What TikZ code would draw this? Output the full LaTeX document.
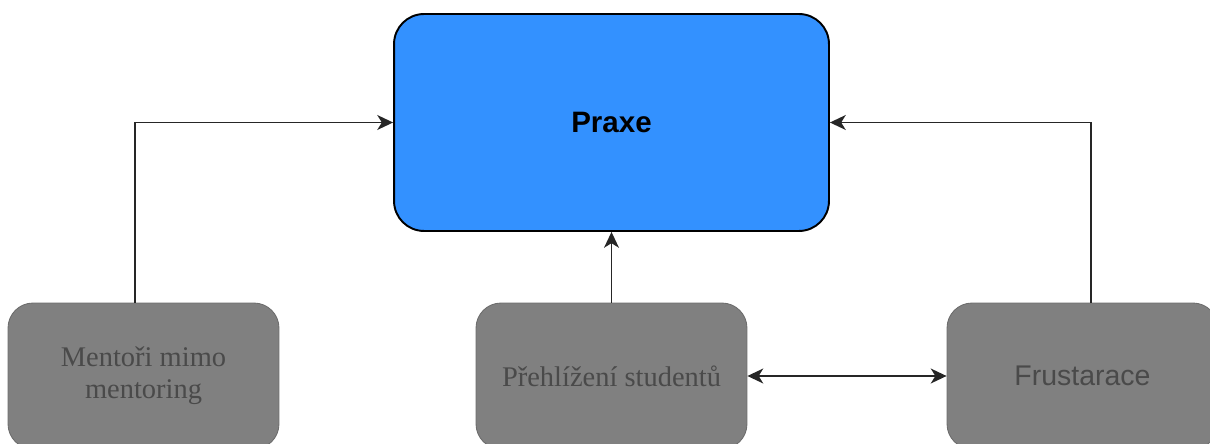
\documentclass[tikz,border=0pt]{standalone}
\usepackage{fontspec}
\setmainfont{Liberation Serif}
\newfontfamily\arialfont{Liberation Sans}
\usetikzlibrary{arrows.meta,positioning}

\definecolor{praxeblue}{HTML}{3391FF}
\definecolor{boxgray}{HTML}{808080}
\definecolor{boxtext}{HTML}{4A4A4A}

\tikzset{
  mainbox/.style={draw=black, line width=1.1pt, fill=praxeblue, rounded corners=0.6cm,
    minimum width=8.7cm, minimum height=4.34cm, font=\arialfont\bfseries\fontsize{16.8}{19}\selectfont},
  graybox/.style={draw=boxgray!85!black, line width=0.5pt, fill=boxgray, rounded corners=0.5cm,
    minimum width=5.42cm, minimum height=2.92cm, text=boxtext, align=center,
    font=\fontsize{16.2}{18.2}\selectfont},
  link/.style={draw=black!85, line width=0.85pt},
}

\begin{document}
\begin{tikzpicture}[x=0.02cm, y=0.02cm, >={Stealth[length=9pt,width=8.5pt,inset=2.6pt]}]
\useasboundingbox (0,0) rectangle (1210,443);
\clip (0,0) rectangle (1210,443);
% top box
\node[mainbox] (praxe) at (611.5,320.5) {Praxe};
% bottom row (runs past the lower edge)
\node[graybox] (mentori) at (143.5,67) {Mentoři mimo\\mentoring};
\node[graybox] (prehlizeni) at (611.5,67) {Přehlížení studentů};
\node[graybox, font=\arialfont\fontsize{16.2}{18.2}\selectfont] (frust) at (1082.5,67) {Frustarace};
% links
\draw[link,->] ([xshift=-0.17cm]mentori.north) |- (praxe.west);
\draw[link,->] ([xshift=0.17cm]frust.north) |- (praxe.east);
\draw[link,->] (prehlizeni.north) -- (praxe.south);
\draw[link,<->] (prehlizeni.east) -- (frust.west);
\end{tikzpicture}
\end{document}
